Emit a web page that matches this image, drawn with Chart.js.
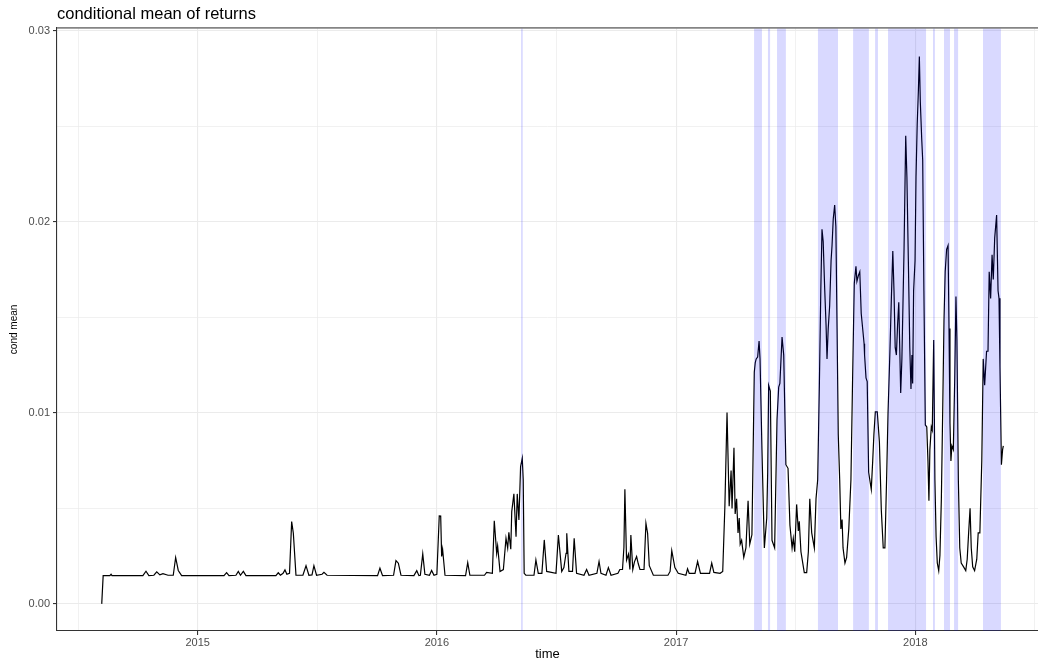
<!DOCTYPE html>
<html>
<head>
<meta charset="utf-8">
<title>conditional mean of returns</title>
<script src="https://cdn.jsdelivr.net/npm/chart.js@4.4.1/dist/chart.umd.min.js"></script>
<style>
  html, body { margin: 0; padding: 0; background: #ffffff; overflow: hidden; }
  #wrap { width: 1038px; height: 662px; }
</style>
</head>
<body>
<div id="wrap"><canvas id="condMeanChart"></canvas></div>
<script>
// time in decimal years
var time = [
  2014.599, 2014.605, 2014.633, 2014.638, 2014.642, 2014.771, 2014.784, 2014.796, 2014.817, 2014.829,
  2014.842, 2014.855, 2014.876, 2014.898, 2014.908, 2014.919, 2014.933, 2015.110, 2015.121, 2015.131,
  2015.160, 2015.170, 2015.179, 2015.191, 2015.202, 2015.327, 2015.337, 2015.346, 2015.357, 2015.365,
  2015.373, 2015.384, 2015.393, 2015.400, 2015.411, 2015.440, 2015.453, 2015.465, 2015.478, 2015.486,
  2015.497, 2015.520, 2015.528, 2015.541, 2015.752, 2015.762, 2015.773, 2015.819, 2015.829, 2015.839,
  2015.850, 2015.904, 2015.916, 2015.925, 2015.931, 2015.941, 2015.950, 2015.969, 2015.978, 2015.988,
  2016.000, 2016.010, 2016.016, 2016.020, 2016.024, 2016.034, 2016.120, 2016.129, 2016.138, 2016.199,
  2016.208, 2016.232, 2016.240, 2016.250, 2016.254, 2016.264, 2016.278, 2016.289, 2016.296, 2016.301,
  2016.309, 2016.313, 2016.322, 2016.331, 2016.336, 2016.343, 2016.350, 2016.357, 2016.361, 2016.365,
  2016.372, 2016.406, 2016.414, 2016.424, 2016.439, 2016.449, 2016.459, 2016.498, 2016.508, 2016.522,
  2016.531, 2016.540, 2016.543, 2016.552, 2016.567, 2016.574, 2016.584, 2016.615, 2016.626, 2016.636,
  2016.669, 2016.678, 2016.686, 2016.707, 2016.717, 2016.728, 2016.757, 2016.765, 2016.776, 2016.782,
  2016.786, 2016.793, 2016.801, 2016.807, 2016.811, 2016.819, 2016.826, 2016.835, 2016.842, 2016.849,
  2016.866, 2016.874, 2016.881, 2016.888, 2016.905, 2016.966, 2016.975, 2016.982, 2016.995, 2017.009,
  2017.041, 2017.048, 2017.055, 2017.079, 2017.090, 2017.102, 2017.140, 2017.149, 2017.158, 2017.184,
  2017.195, 2017.204, 2017.213, 2017.222, 2017.230, 2017.234, 2017.242, 2017.247, 2017.253, 2017.259,
  2017.264, 2017.268, 2017.274, 2017.283, 2017.292, 2017.301, 2017.308, 2017.317, 2017.327, 2017.331,
  2017.335, 2017.341, 2017.347, 2017.351, 2017.359, 2017.369, 2017.379, 2017.383, 2017.387, 2017.394,
  2017.401, 2017.412, 2017.422, 2017.429, 2017.434, 2017.443, 2017.450, 2017.459, 2017.468, 2017.476,
  2017.485, 2017.490, 2017.496, 2017.504, 2017.511, 2017.515, 2017.522, 2017.536, 2017.546, 2017.553,
  2017.559, 2017.567, 2017.578, 2017.585, 2017.592, 2017.599, 2017.605, 2017.610, 2017.615, 2017.621,
  2017.627, 2017.631, 2017.636, 2017.642, 2017.648, 2017.652, 2017.657, 2017.663, 2017.668, 2017.673,
  2017.678, 2017.684, 2017.689, 2017.694, 2017.698, 2017.706, 2017.713, 2017.722, 2017.731, 2017.738,
  2017.745, 2017.752, 2017.756, 2017.762, 2017.768, 2017.774, 2017.780, 2017.786, 2017.788, 2017.794,
  2017.799, 2017.805, 2017.816, 2017.822, 2017.827, 2017.833, 2017.841, 2017.850, 2017.858, 2017.866,
  2017.873, 2017.880, 2017.886, 2017.894, 2017.900, 2017.906, 2017.911, 2017.916, 2017.921, 2017.926,
  2017.931, 2017.939, 2017.944, 2017.953, 2017.960, 2017.965, 2017.971, 2017.977, 2017.982, 2017.986,
  2017.989, 2017.993, 2017.999, 2018.003, 2018.008, 2018.013, 2018.017, 2018.021, 2018.027, 2018.031,
  2018.036, 2018.042, 2018.048, 2018.053, 2018.057, 2018.061, 2018.067, 2018.071, 2018.077, 2018.082,
  2018.087, 2018.092, 2018.098, 2018.103, 2018.109, 2018.115, 2018.120, 2018.125, 2018.131, 2018.137,
  2018.141, 2018.145, 2018.149, 2018.153, 2018.159, 2018.165, 2018.170, 2018.174, 2018.180, 2018.186,
  2018.192, 2018.202, 2018.211, 2018.217, 2018.223, 2018.229, 2018.234, 2018.240, 2018.248, 2018.257,
  2018.263, 2018.270, 2018.278, 2018.284, 2018.290, 2018.298, 2018.304, 2018.309, 2018.315, 2018.321,
  2018.326, 2018.332, 2018.340, 2018.346, 2018.350, 2018.354, 2018.360, 2018.365, 2018.368
];

var condMean = [
  0.00000, 0.00148, 0.00148, 0.00155, 0.00148, 0.00148, 0.00171, 0.00148, 0.00150, 0.00168,
  0.00152, 0.00158, 0.00150, 0.00150, 0.00243, 0.00175, 0.00148, 0.00148, 0.00164, 0.00148,
  0.00150, 0.00170, 0.00150, 0.00170, 0.00148, 0.00148, 0.00163, 0.00150, 0.00160, 0.00178,
  0.00155, 0.00160, 0.00431, 0.00370, 0.00150, 0.00150, 0.00200, 0.00150, 0.00152, 0.00200,
  0.00150, 0.00155, 0.00165, 0.00150, 0.00148, 0.00187, 0.00148, 0.00150, 0.00227, 0.00213,
  0.00150, 0.00148, 0.00174, 0.00148, 0.00150, 0.00262, 0.00155, 0.00150, 0.00175, 0.00150,
  0.00155, 0.00461, 0.00460, 0.00248, 0.00286, 0.00150, 0.00148, 0.00216, 0.00150, 0.00150,
  0.00165, 0.00160, 0.00435, 0.00265, 0.00304, 0.00170, 0.00180, 0.00344, 0.00292, 0.00375,
  0.00286, 0.00483, 0.00576, 0.00352, 0.00576, 0.00440, 0.00719, 0.00763, 0.00650, 0.00160,
  0.00150, 0.00150, 0.00230, 0.00160, 0.00160, 0.00335, 0.00170, 0.00160, 0.00361, 0.00170,
  0.00190, 0.00265, 0.00370, 0.00170, 0.00170, 0.00344, 0.00160, 0.00150, 0.00180, 0.00150,
  0.00160, 0.00222, 0.00160, 0.00150, 0.00190, 0.00150, 0.00160, 0.00180, 0.00180, 0.00297,
  0.00600, 0.00230, 0.00260, 0.00180, 0.00361, 0.00180, 0.00220, 0.00248, 0.00210, 0.00180,
  0.00180, 0.00422, 0.00370, 0.00200, 0.00150, 0.00150, 0.00170, 0.00279, 0.00190, 0.00160,
  0.00150, 0.00184, 0.00160, 0.00160, 0.00222, 0.00160, 0.00160, 0.00214, 0.00165, 0.00160,
  0.00170, 0.00510, 0.01002, 0.00511, 0.00699, 0.00500, 0.00818, 0.00471, 0.00550, 0.00372,
  0.00450, 0.00313, 0.00333, 0.00244, 0.00293, 0.00540, 0.00313, 0.00362, 0.01214, 0.01263,
  0.01283, 0.01293, 0.01376, 0.01283, 0.00808, 0.00293, 0.00450, 0.00689, 0.01145, 0.01115,
  0.00333, 0.00293, 0.00966, 0.01135, 0.01155, 0.01398, 0.01303, 0.00729, 0.00710, 0.00412,
  0.00293, 0.00343, 0.00273, 0.00521, 0.00382, 0.00432, 0.00273, 0.00164, 0.00164, 0.00273,
  0.00550, 0.00372, 0.00293, 0.00550, 0.00650, 0.01145, 0.01640, 0.01962, 0.01897, 0.01659,
  0.01461, 0.01283, 0.01442, 0.01560, 0.01798, 0.01877, 0.02016, 0.02089, 0.01976, 0.01442,
  0.00887, 0.00650, 0.00392, 0.00442, 0.00293, 0.00214, 0.00244, 0.00392, 0.00650, 0.01184,
  0.01679, 0.01768, 0.01689, 0.01719, 0.01739, 0.01521, 0.01442, 0.01362, 0.01303, 0.01184,
  0.01164, 0.00689, 0.00600, 0.00749, 0.00887, 0.01006, 0.01006, 0.00848, 0.00491, 0.00293,
  0.00293, 0.00650, 0.00996, 0.01323, 0.01600, 0.01848, 0.01640, 0.01343, 0.01303, 0.01461,
  0.01580, 0.01105, 0.01283, 0.01857, 0.02452, 0.02234, 0.01798, 0.01343, 0.01125, 0.01303,
  0.01154, 0.01640, 0.01798, 0.02234, 0.02511, 0.02689, 0.02867, 0.02630, 0.02432, 0.02323,
  0.01640, 0.00937, 0.00927, 0.00749, 0.00540, 0.00808, 0.00927, 0.00910, 0.01382, 0.00650,
  0.00352, 0.00214, 0.00174, 0.00253, 0.00550, 0.01046, 0.01481, 0.01739, 0.01857, 0.01877,
  0.01442, 0.00947, 0.00749, 0.00828, 0.00808, 0.01184, 0.01610, 0.01382, 0.00650, 0.00293,
  0.00214, 0.00194, 0.00174, 0.00234, 0.00372, 0.00501, 0.00293, 0.00194, 0.00174, 0.00234,
  0.00372, 0.00372, 0.00749, 0.01283, 0.01145, 0.01323, 0.01323, 0.01739, 0.01600, 0.01828,
  0.01699, 0.01917, 0.02036, 0.01640, 0.01600, 0.01244, 0.00729, 0.00808, 0.00828
];

// shaded high-mean periods (start / end, decimal years)
var bandStart = [2016.352, 2017.326, 2017.384, 2017.422, 2017.593, 2017.740, 2017.832, 2017.886, 2018.074, 2018.120, 2018.162, 2018.283];
var bandEnd   = [2016.359, 2017.359, 2017.393, 2017.459, 2017.677, 2017.806, 2017.844, 2018.045, 2018.082, 2018.145, 2018.179, 2018.358];

var yearTicks = [2015, 2016, 2017, 2018];
var meanTicks = [0, 0.01, 0.02, 0.03];

var FONT = '"Liberation Sans", Arial, Helvetica, sans-serif';

function withMinors(major, lo, hi) {
  var step = major[1] - major[0];
  var out = [];
  for (var i = 0; i < major.length; i++) {
    out.push(major[i] - step / 2);
    out.push(major[i]);
  }
  out.push(major[major.length - 1] + step / 2);
  return out.filter(function (v) { return v >= lo && v <= hi; });
}

function isMajor(list, v) {
  return list.some(function (m) { return Math.abs(m - v) < 1e-9; });
}

var regimeBands = {
  id: 'regimeBands',
  afterDatasetsDraw: function (chart) {
    var c = chart.ctx, a = chart.chartArea, x = chart.scales.x;
    c.save();
    c.fillStyle = 'rgba(0, 0, 255, 0.15)';
    for (var i = 0; i < bandStart.length; i++) {
      var x0 = x.getPixelForValue(bandStart[i]);
      var x1 = x.getPixelForValue(bandEnd[i]);
      c.fillRect(x0, a.top, Math.max(x1 - x0, 1.2), a.bottom - a.top);
    }
    c.restore();
  }
};

var topRule = {
  id: 'topRule',
  afterDraw: function (chart) {
    var c = chart.ctx, a = chart.chartArea;
    c.save();
    c.strokeStyle = '#858585';
    c.lineWidth = 1.8;
    c.beginPath();
    c.moveTo(a.left, a.top);
    c.lineTo(a.right, a.top);
    c.stroke();
    c.restore();
  }
};

var xMin = 2014.412, xMax = 2018.513;
var yMin = -0.00142, yMax = 0.03017;

var ctx = document.getElementById('condMeanChart').getContext('2d');
var chart = new Chart(ctx, {
  type: 'line',
  data: {
    datasets: [{
      label: 'cond mean',
      data: time.map(function (t, i) { return { x: t, y: condMean[i] }; }),
      borderColor: '#000000',
      borderWidth: 1.2,
      pointRadius: 0,
      tension: 0,
      fill: false
    }]
  },
  options: {
    animation: false,
    responsive: true,
    maintainAspectRatio: false,
    layout: { padding: 0 },
    plugins: {
      legend: { display: false },
      tooltip: { enabled: false },
      title: {
        display: true,
        text: 'conditional mean of returns',
        align: 'start',
        fullSize: false,
        color: '#000000',
        font: { family: FONT, size: 16.5, weight: 'normal', lineHeight: 1.2 },
        padding: { top: 5, bottom: 3 }
      }
    },
    scales: {
      x: {
        type: 'linear',
        min: xMin,
        max: xMax,
        afterBuildTicks: function (s) {
          s.ticks = withMinors(yearTicks, xMin, xMax).map(function (v) { return { value: v }; });
        },
        afterFit: function (s) { s.height = 31; },
        ticks: {
          autoSkip: false,
          maxRotation: 0,
          padding: 1,
          color: '#4d4d4d',
          font: { family: FONT, size: 11 },
          callback: function (v) { return isMajor(yearTicks, v) ? String(v) : ''; }
        },
        grid: {
          color: '#ebebeb',
          lineWidth: function (c) { return isMajor(yearTicks, c.tick.value) ? 1.1 : 0.7; },
          tickColor: function (c) { return isMajor(yearTicks, c.tick.value) ? '#333333' : 'rgba(0,0,0,0)'; },
          tickLength: 4,
          tickWidth: 1.1
        },
        border: { display: true, color: '#333333', width: 1.1 },
        title: {
          display: true,
          text: 'time',
          color: '#000000',
          font: { family: FONT, size: 13 },
          padding: { top: 0, bottom: 0 }
        }
      },
      y: {
        type: 'linear',
        min: yMin,
        max: yMax,
        afterBuildTicks: function (s) {
          s.ticks = withMinors(meanTicks, yMin, yMax).map(function (v) { return { value: v }; });
        },
        afterFit: function (s) { s.width = 57; },
        ticks: {
          autoSkip: false,
          padding: 3,
          color: '#4d4d4d',
          font: { family: FONT, size: 11 },
          callback: function (v) { return isMajor(meanTicks, v) ? v.toFixed(2) : ''; }
        },
        grid: {
          color: '#ebebeb',
          lineWidth: function (c) { return isMajor(meanTicks, c.tick.value) ? 1.1 : 0.7; },
          tickColor: function (c) { return isMajor(meanTicks, c.tick.value) ? '#333333' : 'rgba(0,0,0,0)'; },
          tickLength: 4,
          tickWidth: 1.1
        },
        border: { display: true, color: '#333333', width: 1.1 },
        title: {
          display: true,
          text: 'cond mean',
          color: '#000000',
          font: { family: FONT, size: 10 },
          padding: { top: 8, bottom: 0 }
        }
      }
    }
  },
  plugins: [regimeBands, topRule]
});
</script>
</body>
</html>
